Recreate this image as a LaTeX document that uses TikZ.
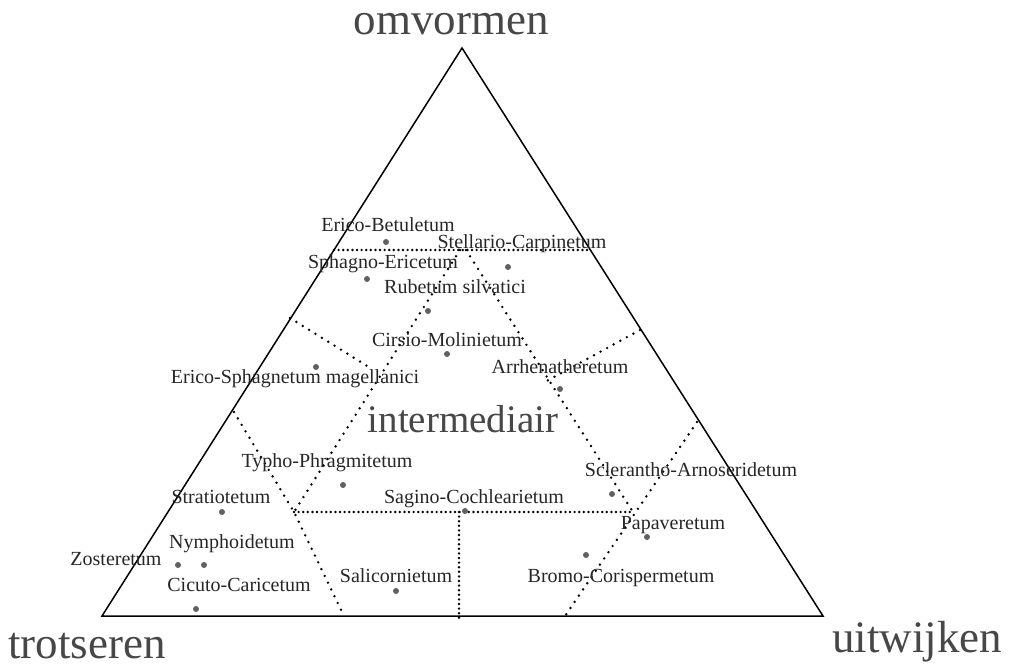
\documentclass[tikz,border=0pt]{standalone}
\usepackage{fontspec}
\setmainfont{Liberation Serif}
\tikzset{
  Corner/.style = {anchor=base, inner sep=0pt, text=black!72, font=\fontsize{45}{50}\selectfont},
  Zone/.style = {anchor=base, inner sep=0pt, text=black!72, font=\fontsize{39}{44}\selectfont},
  Assoc/.style = {anchor=base, inner sep=0pt, text=black!85, font=\fontsize{20}{22}\selectfont},
  Dot/.style = {circle, inner sep=0pt, minimum size=6pt, fill=black!62},
  Border/.style = {line width=2.7pt, dash pattern=on 0pt off 4.6pt, line cap=round, black},
  Slant/.style = {line width=2.7pt, dash pattern=on 0pt off 7.5pt, line cap=round, black}
}
\begin{document}
\begin{tikzpicture}[x=1pt,y=-1pt]
\useasboundingbox (0,0) rectangle (1011,668);
% triangle
\coordinate (top) at (462,48);
\coordinate (left) at (102,616);
\coordinate (right) at (823,616);
\draw[line width=1.5pt] (left) -- (top) -- (right) -- cycle;

\node[Corner] (omvormen) at (451,35) {omvormen};
\node[Corner] (trotseren) at (87,658) {trotseren};
\node[Corner] (uitwijken) at (917,652) {uitwijken};
\node[Zone] (intermediair) at (463,432) {intermediair};

% borders of the zones
\coordinate (hl) at (334,250);
\coordinate (hr) at (590,250);
\coordinate (sl) at (460,250);
\coordinate (sr) at (466,250);
\coordinate (ml) at (294,512);
\coordinate (mr) at (633,512);
\coordinate (mc) at (459,512);
\coordinate (bc) at (459,621);
\coordinate (ll) at (234,412);
\coordinate (lb) at (344,616);
\coordinate (ul) at (290,318);
\coordinate (ue) at (372,369);
\coordinate (ur) at (640,330);
\coordinate (ue2) at (545,382);
\coordinate (rr) at (697,422);
\coordinate (rb) at (565,616);
\draw[Border] (hl) -- (hr);
\draw[Border] (ml) -- (mr);
\draw[Border] (mc) -- (bc);
\draw[Slant] (sl) -- (ml);
\draw[Slant] (sr) -- (mr);
\draw[Slant] (ll) -- (ml) -- (lb);
\draw[Slant] (ul) -- (ue);
\draw[Slant] (ur) -- (ue2);
\draw[Slant] (rr) -- (rb);

% associations
\node[Assoc] (eb) at (388,232) {Erico-Betuletum};
\node[Dot] (ebdot) at (386,242) {};
\node[Assoc] (sc) at (522,248) {Stellario-Carpinetum};
\node[Dot] (scdot) at (508,267) {};
\node[Assoc] (se) at (383,268) {Sphagno-Ericetum};
\node[Dot] (sedot) at (367,279) {};
\node[Assoc] (rs) at (455,293) {Rubetum silvatici};
\node[Dot] (rsdot) at (428,311) {};
\node[Assoc] (cm) at (447,346) {Cirsio-Molinietum};
\node[Dot] (cmdot) at (447,354) {};
\node[Assoc] (esm) at (295,383) {Erico-Sphagnetum magellanici};
\node[Dot] (esmdot) at (316,367) {};
\node[Assoc] (ar) at (560,373) {Arrhenatheretum};
\node[Dot] (ardot) at (560,389) {};
\node[Assoc] (tp) at (327,467) {Typho-Phragmitetum};
\node[Dot] (tpdot) at (343,485) {};
\node[Assoc] (st) at (221,503) {Stratiotetum};
\node[Dot] (stdot) at (222,512) {};
\node[Assoc] (sg) at (474,503) {Sagino-Cochlearietum};
\node[Dot] (sgdot) at (465,511) {};
\node[Assoc] (ny) at (232,548) {Nymphoidetum};
\node[Dot] (nydot) at (204,565) {};
\node[Assoc] (zo) at (116,565) {Zosteretum};
\node[Dot] (zodot) at (178,565) {};
\node[Assoc] (cc) at (239,591) {Cicuto-Caricetum};
\node[Dot] (ccdot) at (196,609) {};
\node[Assoc] (sa) at (396,582) {Salicornietum};
\node[Dot] (sadot) at (396,591) {};
\node[Assoc] (sa2) at (691,476) {Sclerantho-Arnoseridetum};
\node[Dot] (sa2dot) at (612,494) {};
\node[Assoc] (pa) at (673,529) {Papaveretum};
\node[Dot] (padot) at (647,537) {};
\node[Assoc] (bc2) at (621,582) {Bromo-Corispermetum};
\node[Dot] (bc2dot) at (586,555) {};
\end{tikzpicture}
\end{document}
